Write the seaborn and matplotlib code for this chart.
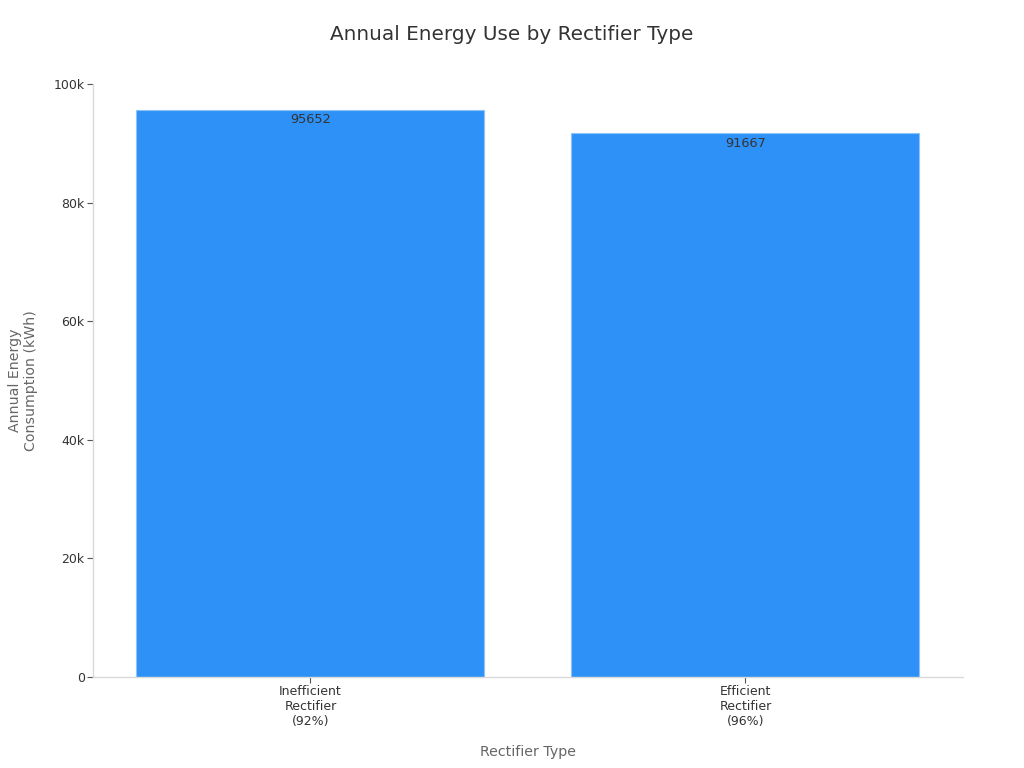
import matplotlib
matplotlib.use("Agg")
import matplotlib.pyplot as plt
import seaborn as sns
import pandas as pd
from matplotlib.ticker import FuncFormatter

categories = ["Inefficient\nRectifier\n(92%)", "Efficient\nRectifier\n(96%)"]
values = [95652, 91667]

df = pd.DataFrame({"type": categories, "kwh": values})

sns.set_theme(style="white")
plt.rcParams['font.family'] = ['DejaVu Sans']

fig = plt.figure(figsize=(10.24, 7.68), dpi=100)
ax = fig.add_axes([0.0908, 0.1185, 0.8496, 0.7721])

sns.barplot(data=df, x="type", y="kwh", color="#2e91f8", width=0.8,
            edgecolor="#8cc4f7", linewidth=0.8, saturation=1, ax=ax)

for p, v in zip(ax.patches, values):
    ax.annotate(str(v), (p.get_x() + p.get_width() / 2, v),
                xytext=(0, -2.5), textcoords="offset points",
                ha="center", va="top", fontsize=9.3, color="#333333")

ax.set_xlim(-0.5, 1.5)
ax.set_ylim(0, 100000)
ax.set_yticks([0, 20000, 40000, 60000, 80000, 100000])
ax.yaxis.set_major_formatter(FuncFormatter(lambda v, p: "0" if v == 0 else f"{int(v/1000)}k"))

for s in ["top", "right"]:
    ax.spines[s].set_visible(False)
for s in ["left", "bottom"]:
    ax.spines[s].set_color("#d9d9d9")
    ax.spines[s].set_linewidth(1)

ax.tick_params(axis="both", which="major", length=4, width=0.8, color="#555555",
               labelsize=9, labelcolor="#333333", pad=2, bottom=True, left=True)

ax.set_xlabel("Rectifier Type", fontsize=10.2, color="#666666", labelpad=12)
ax.set_ylabel("Annual Energy\nConsumption (kWh)", fontsize=10.2, color="#666666", labelpad=11)
fig.suptitle("Annual Energy Use by Rectifier Type", fontsize=14.4, color="#333333", y=0.968)

fig.savefig("out.png", dpi=100)
